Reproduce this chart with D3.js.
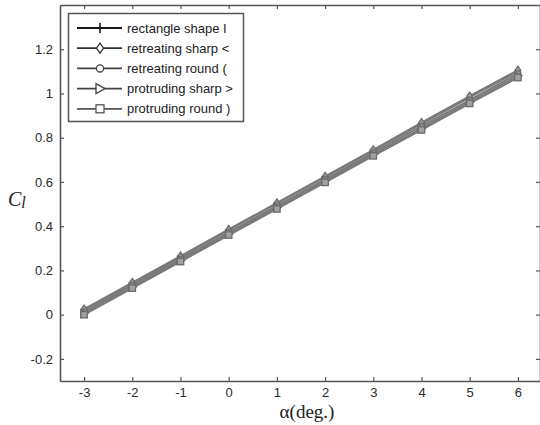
<!DOCTYPE html>
<html>
<head>
<meta charset="utf-8">
<script src="https://cdn.jsdelivr.net/npm/d3@7"></script>
<style>
  body { margin: 0; background: #fff; }
  svg { display: block; }
  text { font-family: "Liberation Sans", Arial, sans-serif; }
</style>
</head>
<body>
<svg width="540" height="425"></svg>
<script>
// angle of attack, degrees
var alpha = [-3, -2, -1, 0, 1, 2, 3, 4, 5, 6];

// lift coefficient
var rectShape      = [0.020, 0.140, 0.260, 0.382, 0.502, 0.622, 0.742, 0.862, 0.982, 1.100];
var retreatSharp   = [0.025, 0.145, 0.265, 0.385, 0.505, 0.625, 0.745, 0.868, 0.988, 1.105];
var retreatRound   = [0.012, 0.132, 0.252, 0.372, 0.492, 0.612, 0.732, 0.852, 0.970, 1.090];
var protrudeSharp  = [0.005, 0.125, 0.245, 0.365, 0.485, 0.605, 0.725, 0.842, 0.962, 1.080];
var protrudeRound  = [0.000, 0.120, 0.240, 0.360, 0.478, 0.598, 0.718, 0.835, 0.955, 1.072];

var seriesNames = ["rectangle shape I", "retreating sharp <", "retreating round (", "protruding sharp >", "protruding round )"];
var seriesVals  = [rectShape, retreatSharp, retreatRound, protrudeSharp, protrudeRound];
var seriesMark  = ["plus", "diamond", "circle", "triangle", "square"];
var legendColor = ["#1a1a1a", "#333", "#444", "#444", "#555"];

var xTicks = [-3, -2, -1, 0, 1, 2, 3, 4, 5, 6];
var yTicks = [-0.2, 0, 0.2, 0.4, 0.6, 0.8, 1, 1.2];

var svg = d3.select("svg");
var mLeft = 60, mRight = 542, mTop = 5, mBottom = 381;

var x = d3.scaleLinear().domain([-3.5, 6.5]).range([mLeft, mRight]);
var y = d3.scaleLinear().domain([-0.3, 1.4]).range([mBottom, mTop]);

var axisColor = "#555";
var fmt = function(d) { return String(d); };

// axes
var xAxis = svg.append("g").attr("transform", "translate(0," + mBottom + ")")
  .call(d3.axisBottom(x).tickValues(xTicks).tickSizeInner(-4).tickSizeOuter(0).tickPadding(7).tickFormat(fmt));
var yAxis = svg.append("g").attr("transform", "translate(" + mLeft + ",0)")
  .call(d3.axisLeft(y).tickValues(yTicks).tickSizeInner(-4).tickSizeOuter(0).tickPadding(7).tickFormat(fmt));
var xTop = svg.append("g").attr("transform", "translate(0," + mTop + ")")
  .call(d3.axisTop(x).tickValues(xTicks).tickSizeInner(-4).tickSizeOuter(0).tickFormat(""));
var yRight = svg.append("g").attr("transform", "translate(" + (mRight - 2) + ",0)")
  .call(d3.axisRight(y).tickValues(yTicks).tickSizeInner(-4).tickSizeOuter(0).tickFormat(""));

[xAxis, yAxis, xTop, yRight].forEach(function(g) {
  g.select(".domain").attr("stroke", axisColor).attr("stroke-width", 1.6);
  g.selectAll(".tick line").attr("stroke", axisColor).attr("stroke-width", 1.2);
  g.selectAll(".tick text").attr("fill", "#2a2a2a").style("font-size", "13px")
    .style("font-family", "'Liberation Sans', Arial, sans-serif");
});

// markers
function drawMarker(g, type, cx, cy, col, fill, s) {
  if (type == "plus") {
    g.append("path").attr("d", "M" + (cx - 4 * s) + "," + cy + "H" + (cx + 4 * s) + "M" + cx + "," + (cy - 5 * s) + "V" + (cy + 5 * s))
      .attr("stroke", col).attr("stroke-width", 1.6).attr("fill", "none");
  } else if (type == "diamond") {
    g.append("path").attr("d", "M" + cx + "," + (cy - 5 * s) + "L" + (cx + 3.5 * s) + "," + cy + "L" + cx + "," + (cy + 5 * s) + "L" + (cx - 3.5 * s) + "," + cy + "Z")
      .attr("stroke", col).attr("stroke-width", 1.3).attr("fill", fill);
  } else if (type == "circle") {
    g.append("circle").attr("cx", cx).attr("cy", cy).attr("r", 3.6 * s)
      .attr("stroke", col).attr("stroke-width", 1.3).attr("fill", fill);
  } else if (type == "triangle") {
    g.append("path").attr("d", "M" + (cx - 4 * s) + "," + (cy - 5 * s) + "L" + (cx + 5 * s) + "," + cy + "L" + (cx - 4 * s) + "," + (cy + 5 * s) + "Z")
      .attr("stroke", col).attr("stroke-width", 1.3).attr("fill", fill);
  } else {
    g.append("rect").attr("x", cx - 4 * s).attr("y", cy - 4 * s).attr("width", 8 * s).attr("height", 8 * s)
      .attr("stroke", col).attr("stroke-width", 1.3).attr("fill", fill);
  }
}

// lines
var line = d3.line().x(function(d, i) { return x(alpha[i]); }).y(function(d) { return y(d); });
var plot = svg.append("g");
seriesVals.forEach(function(vals, k) {
  plot.append("path").datum(vals).attr("d", line)
    .attr("fill", "none").attr("stroke", "#7a7a7a").attr("stroke-width", 2);
});
seriesVals.forEach(function(vals, k) {
  vals.forEach(function(v, i) {
    drawMarker(plot, seriesMark[k], x(alpha[i]), y(v), "#6a6a6a", "#a0a0a0", 0.8);
  });
});

// legend
var leg = svg.append("g");
leg.append("rect").attr("x", 68.5).attr("y", 13.5).attr("width", 175).attr("height", 108)
  .attr("fill", "#fff").attr("stroke", axisColor).attr("stroke-width", 1.5);
seriesNames.forEach(function(name, k) {
  var ly = 28 + k * 20.2;
  leg.append("line").attr("x1", 77).attr("x2", 122).attr("y1", ly).attr("y2", ly)
    .attr("stroke", legendColor[k]).attr("stroke-width", k == 0 ? 2.2 : 1.8);
  drawMarker(leg, seriesMark[k], 100, ly, legendColor[k], "#fff", 1);
  leg.append("text").attr("x", 127).attr("y", ly + 4.5).text(name)
    .attr("fill", "#222").style("font-size", "13px");
});

// axis labels
svg.append("text").attr("x", 307).attr("y", 418).attr("text-anchor", "middle")
  .style("font-family", "'Liberation Serif', 'Times New Roman', serif").style("font-size", "19px")
  .attr("fill", "#222").text("α(deg.)");
var cl = svg.append("text").attr("x", 8).attr("y", 206)
  .style("font-family", "'Liberation Serif', 'Times New Roman', serif").style("font-size", "20px")
  .style("font-style", "italic").attr("fill", "#222");
cl.append("tspan").text("C");
cl.append("tspan").attr("dy", 2).style("font-size", "16px").text("l");
</script>
</body>
</html>
